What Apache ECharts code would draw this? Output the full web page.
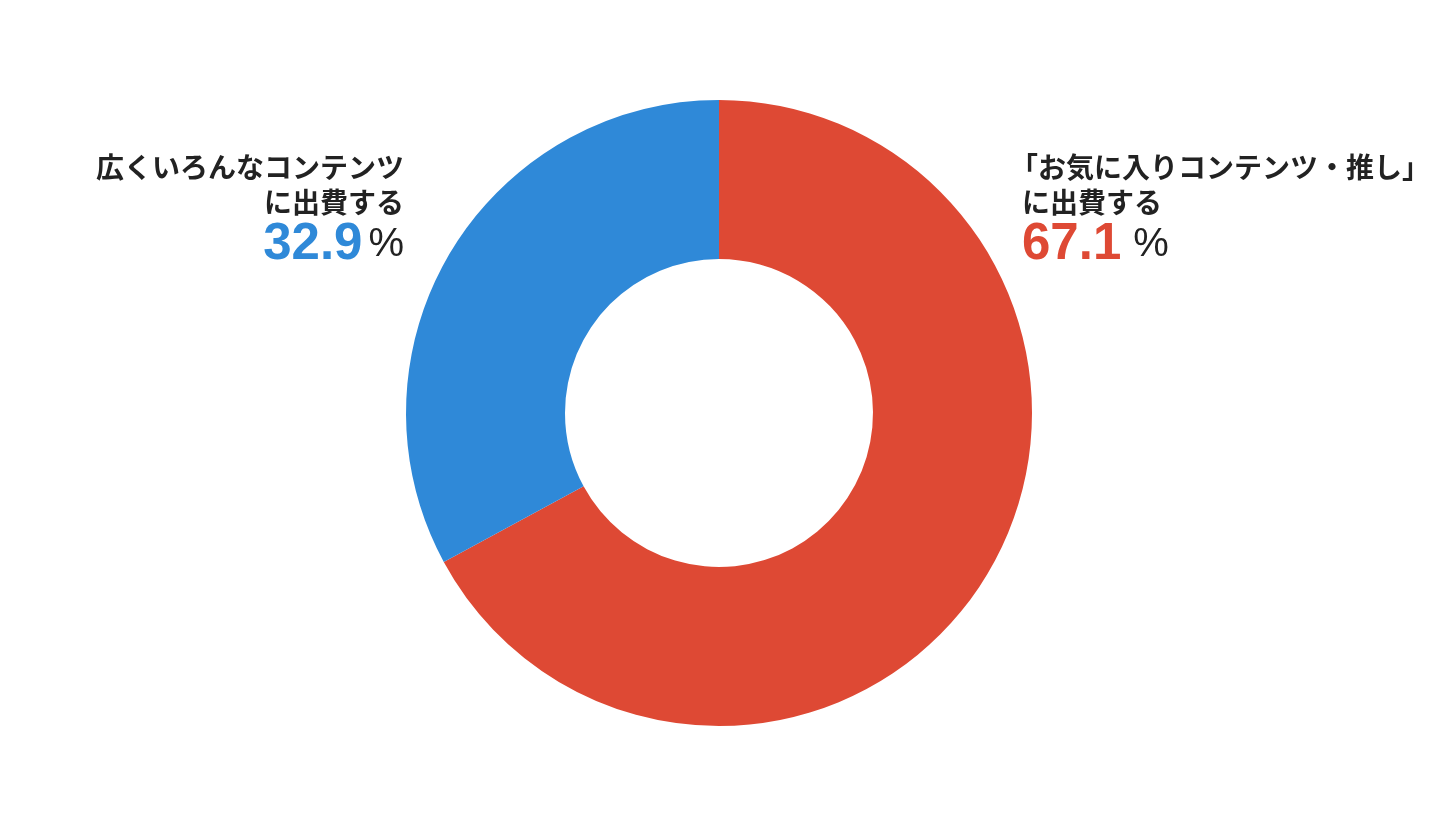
<!DOCTYPE html>
<html>
<head>
<meta charset="utf-8">
<script src="https://cdn.jsdelivr.net/npm/echarts@6/dist/echarts.min.js"></script>
<style>
html,body{margin:0;padding:0;background:#fff;}
#main{width:1440px;height:823px;}
</style>
</head>
<body>
<div id="main"></div>
<script>
const categories = ['「お気に入りコンテンツ・推し」\nに出費する', '広くいろんなコンテンツ\nに出費する'];
const values = [67.1, 32.9];
const colors = ['#de4934', '#2f89d8'];

const chart = echarts.init(document.getElementById('main'));
const JP = '"Noto Sans CJK JP", sans-serif';
const NUM = '"Liberation Sans", Arial, sans-serif';

function richFor(i) {
  const left = i === 0;
  const ind = left ? 12 : 0;
  return {
    h: { fontFamily: JP, fontSize: 28, fontWeight: 'bold', color: '#222', lineHeight: 35 },
    t: { fontFamily: JP, fontSize: 28, fontWeight: 'bold', color: '#222', lineHeight: 35, padding: [0, 0, 0, ind] },
    v: { fontFamily: NUM, fontSize: 51, fontWeight: 'bold', color: colors[i], lineHeight: 50, padding: [0, 0, 0, ind] },
    p: { fontFamily: NUM, fontSize: 40, fontWeight: 'normal', color: '#222', lineHeight: 50, padding: [0, 0, 0, left ? 12 : 6] }
  };
}

chart.setOption({
  backgroundColor: '#ffffff',
  animation: false,
  series: [{
    type: 'pie',
    center: [719, 413],
    radius: [154, 313],
    startAngle: 90,
    clockwise: true,
    avoidLabelOverlap: false,
    labelLine: { show: false },
    data: categories.map((c, i) => ({
      name: c,
      value: values[i],
      itemStyle: { color: colors[i] },
      label: { rich: richFor(i) }
    })),
    label: {
      show: true,
      position: 'outside',
      formatter: (p) => {
        const lines = p.name.split('\n');
        return lines.map((s, k) => (k === 0 ? '{h|' : '{t|') + s + '}').join('\n') +
          '\n{v|' + p.value.toFixed(1) + '}{p|%}';
      }
    },
    labelLayout: (params) => {
      if (params.dataIndex === 0) {
        return { x: 1010, y: 150, align: 'left', verticalAlign: 'top' };
      }
      return { x: 404, y: 150, align: 'right', verticalAlign: 'top' };
    }
  }]
});
</script>
</body>
</html>
